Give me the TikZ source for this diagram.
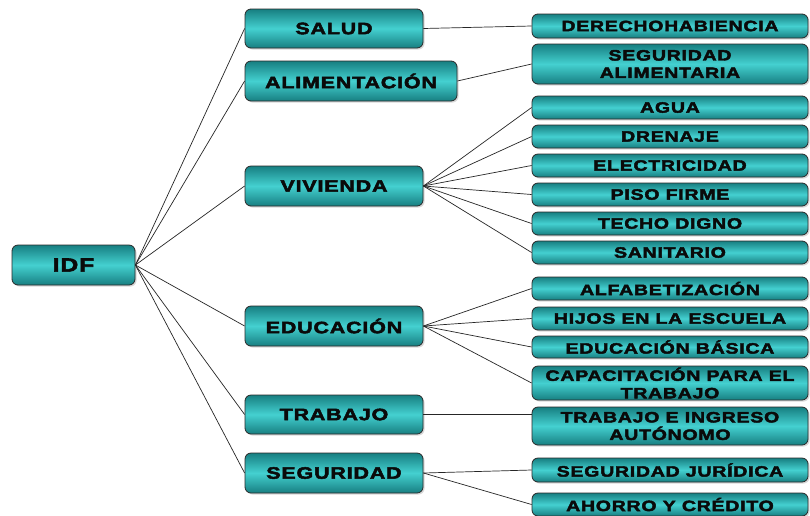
\documentclass[tikz,border=0pt]{standalone}
\usepackage{fontspec}
\setmainfont{Liberation Sans}
\newfontfamily\boxfont[FakeStretch=1.3,LetterSpace=5,FakeBold=3]{Liberation Sans Bold}
\usetikzlibrary{shadows}
\definecolor{tealedge}{HTML}{177F81}
\definecolor{tealmid}{HTML}{44D0D0}
\definecolor{boxline}{HTML}{2A2A2A}
\definecolor{txt}{HTML}{0A0A0A}
\tikzset{
  tbox/.style={draw=boxline, line width=0.8pt, rounded corners=6pt,
    top color=tealedge, bottom color=tealedge, middle color=tealmid,
    drop shadow={opacity=0.3, shadow xshift=1.5pt, shadow yshift=-1.5pt},
    inner sep=0pt, align=center, text=txt},
  midbox/.style={tbox, minimum width=178pt, minimum height=40pt,
    font=\boxfont\fontsize{16.5}{19}\selectfont},
  rbox/.style={tbox, minimum width=276pt, minimum height=23pt,
    font=\boxfont\fontsize{15}{17.5}\selectfont},
  link/.style={draw=black!85, line width=0.7pt}
}
\begin{document}
\begin{tikzpicture}[x=1pt,y=-1pt]
\useasboundingbox[fill=white] (0,0) rectangle (810,515);
% root
\node[midbox, minimum width=123pt, font=\boxfont\fontsize{19}{22}\selectfont] (idf) at (73.5,265) {IDF};
% middle
\node[midbox, minimum height=39pt] (salud) at (334,28.5) {SALUD};
\node[midbox, minimum width=212pt] (alim) at (351,81) {ALIMENTACIÓN};
\node[midbox] (viv) at (334,186) {VIVIENDA};
\node[midbox] (edu) at (334,326) {EDUCACIÓN};
\node[midbox, minimum height=39pt] (trab) at (334,414.5) {TRABAJO};
\node[midbox] (seg) at (334,473) {SEGURIDAD};
% right
\node[rbox, minimum height=24pt] (derecho) at (670,26) {DERECHOHABIENCIA};
\node[rbox, minimum height=40pt] (segal) at (670,64) {SEGURIDAD\\ALIMENTARIA};
\node[rbox] (agua) at (670,107.5) {AGUA};
\node[rbox] (dren) at (670,136.5) {DRENAJE};
\node[rbox] (elec) at (670,165.5) {ELECTRICIDAD};
\node[rbox] (piso) at (670,194.5) {PISO FIRME};
\node[rbox] (techo) at (670,223.5) {TECHO DIGNO};
\node[rbox] (sanit) at (670,252.5) {SANITARIO};
\node[rbox] (alfa) at (670,288.5) {ALFABETIZACIÓN};
\node[rbox] (hijos) at (670,318.5) {HIJOS EN LA ESCUELA};
\node[rbox, minimum height=22pt] (edbas) at (670,347) {EDUCACIÓN BÁSICA};
\node[rbox, minimum height=34pt] (capac) at (670,383) {CAPACITACIÓN PARA EL\\TRABAJO};
\node[rbox, minimum height=38pt] (trabing) at (670,426) {TRABAJO E INGRESO\\AUTÓNOMO};
\node[rbox, minimum height=24pt] (segjur) at (670,470) {SEGURIDAD JURÍDICA};
\node[rbox] (ahorro) at (670,504.5) {AHORRO Y CRÉDITO};
% connectors
\foreach \n in {salud,alim,viv,edu,trab,seg}{\draw[link] (idf.east) -- (\n.west);}
\draw[link] (salud.east) -- (derecho.west);
\draw[link] (alim.east) -- (segal.west);
\foreach \n in {agua,dren,elec,piso,techo,sanit}{\draw[link] (viv.east) -- (\n.west);}
\foreach \n in {alfa,hijos,edbas,capac}{\draw[link] (edu.east) -- (\n.west);}
\draw[link] (trab.east) -- (trab.east -| trabing.west);
\foreach \n in {segjur,ahorro}{\draw[link] (seg.east) -- (\n.west);}
\end{tikzpicture}
\end{document}
